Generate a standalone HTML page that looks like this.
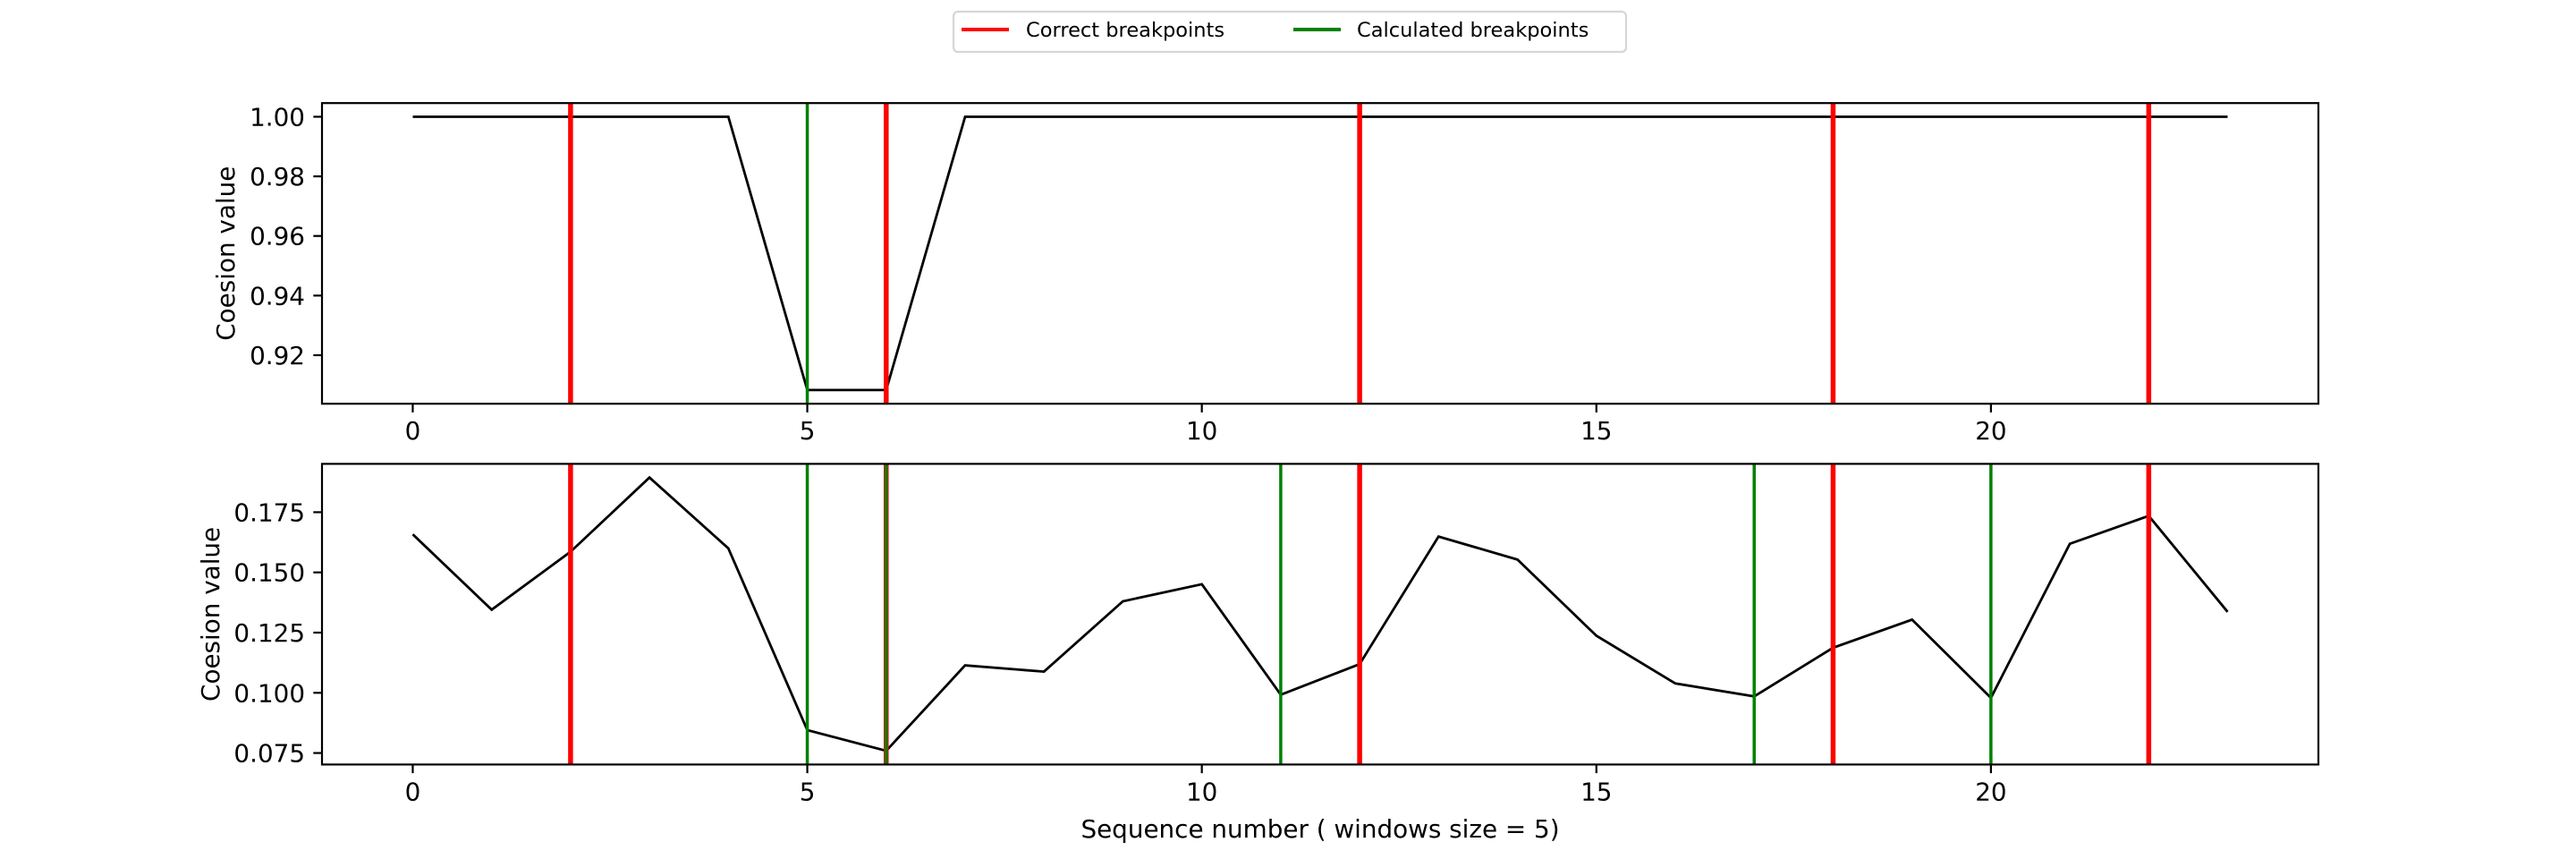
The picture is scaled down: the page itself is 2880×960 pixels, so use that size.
<!DOCTYPE html>
<html><head><meta charset="utf-8"><style>
html,body{margin:0;padding:0;background:#fff;}
svg{display:block;font-family:"DejaVu Sans","Liberation Sans",sans-serif;}
</style></head><body>
<svg id="fig" width="2880" height="960" viewBox="0 0 2880 960" xmlns="http://www.w3.org/2000/svg">
<rect width="2880" height="960" fill="#fff"/>
<g id="legend">
<rect x="1066" y="13" width="752" height="45" rx="5" fill="#fff" stroke="#d6d6d6" stroke-width="2.2"/>
<line x1="1075" y1="33" x2="1128" y2="33" stroke="#ff0000" stroke-width="4"/>
<text x="1147" y="41" font-size="22.5" fill="#000">Correct breakpoints</text>
<line x1="1446" y1="33" x2="1499" y2="33" stroke="#008000" stroke-width="4"/>
<text x="1517" y="41" font-size="22.5" fill="#000">Calculated breakpoints</text>
</g>
<g id="p1"></g>
<g id="p2"></g>
<text x="1476" y="936" font-size="27.8" text-anchor="middle">Sequence number ( windows size = 5)</text>
</svg>
<script>
const seqX = [0,1,2,3,4,5,6,7,8,9,10,11,12,13,14,15,16,17,18,19,20,21,22,23];
const topValues = [1,1,1,1,1,0.9083,0.9083,1,1,1,1,1,1,1,1,1,1,1,1,1,1,1,1,1];
const bottomValues = [0.1658,0.1345,0.1586,0.1894,0.160,0.0845,0.0759,0.1114,0.1088,0.138,0.1451,0.0992,0.1119,0.1649,0.1553,0.1237,0.1039,0.0985,0.1187,0.1304,0.0979,0.1619,0.1735,0.1336];
const correctBreaks = [2,6,12,18,22];
const calcBreaksTop = [5];
const calcBreaksBottom = [5,6,11,17,20];
const xTicks = [0,5,10,15,20];
const yTicksTop = [0.92,0.94,0.96,0.98,1.00];
const yTickLabelsTop = ["0.92","0.94","0.96","0.98","1.00"];
const yTicksBottom = [0.075,0.100,0.125,0.150,0.175];
const yTickLabelsBottom = ["0.075","0.100","0.125","0.150","0.175"];

const NS="http://www.w3.org/2000/svg";
function mk(parent,tag,attrs){const e=document.createElementNS(NS,tag);for(const k in attrs)e.setAttribute(k,attrs[k]);parent.appendChild(e);return e;}

function panel(gid,top,vals,calc,yt,ytl,labelX,prefix){
  const g=document.getElementById(gid);
  const L=360,R=2592,T=top,B=top+336;
  const xmin=-1.15,xmax=24.15;
  const dmin=Math.min(...vals),dmax=Math.max(...vals),m=(dmax-dmin)*0.05;
  const ymin=dmin-m,ymax=dmax+m;
  const sx=v=>L+(v-xmin)/(xmax-xmin)*(R-L);
  const sy=v=>B-(v-ymin)/(ymax-ymin)*(B-T);
  const pts=seqX.map((x,i)=>sx(x).toFixed(1)+","+sy(vals[i]).toFixed(1)).join(" ");
  const line=mk(g,"polyline",{points:pts,fill:"none",stroke:"#000","stroke-width":2.8,"stroke-linejoin":"miter"});
  
  
  correctBreaks.forEach(b=>{
    const l=mk(g,"line",{x1:sx(b),x2:sx(b),y1:T,y2:B,stroke:"#ff0000","stroke-width":5.5});
    
    
  });
  calc.forEach(b=>{
    const l=mk(g,"line",{x1:sx(b),x2:sx(b),y1:T,y2:B,stroke:"#008000","stroke-width":3.5});
    
    
  });
  const fr=mk(g,"rect",{x:L,y:T,width:R-L,height:B-T,fill:"none",stroke:"#000","stroke-width":2.2});
  
  
  xTicks.forEach(t=>{
    mk(g,"line",{x1:sx(t),x2:sx(t),y1:B,y2:B+9.7,stroke:"#000","stroke-width":2.2});
    const tx=mk(g,"text",{x:sx(t),y:B+40,"font-size":27.8,"text-anchor":"middle"});
    tx.textContent=String(t);
    
    
  });
  yt.forEach((t,i)=>{
    mk(g,"line",{x1:L-9.7,x2:L,y1:sy(t),y2:sy(t),stroke:"#000","stroke-width":2.2});
    const tx=mk(g,"text",{x:L-19,y:sy(t)+10,"font-size":27.8,"text-anchor":"end"});
    tx.textContent=ytl[i];
    
    
  });
  const yl=mk(g,"text",{x:labelX,y:(T+B)/2,"font-size":27.8,"text-anchor":"middle",transform:`rotate(-90 ${labelX} ${(T+B)/2})`});
  yl.textContent="Coesion value";
  
  
}
panel("p1",115.2,topValues,calcBreaksTop,yTicksTop,yTickLabelsTop,262,"top");
panel("p2",518.4,bottomValues,calcBreaksBottom,yTicksBottom,yTickLabelsBottom,245,"bottom");
</script>
</body></html>
